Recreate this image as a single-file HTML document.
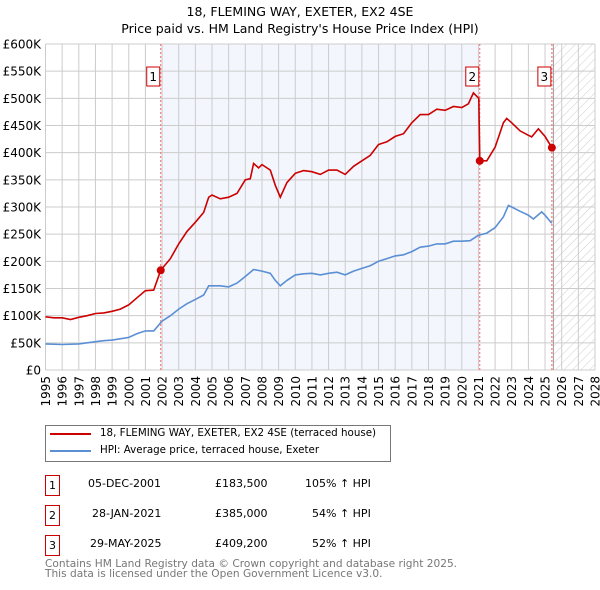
<!DOCTYPE html>
<html><head><meta charset="utf-8"><style>
body{margin:0;background:#fff;font-family:"DejaVu Sans","Liberation Sans",sans-serif;}
#wrap{position:relative;width:600px;height:590px;overflow:hidden}
.t{position:absolute;font-size:11px;color:#000;white-space:nowrap}
.box{position:absolute;border:1px solid #c00;width:13px;height:19px;font-size:11px;text-align:center;line-height:19px}
</style></head><body><div id="wrap">
<svg id="chart" width="600" height="420" style="position:absolute;left:0;top:0" font-family="DejaVu Sans, Liberation Sans, sans-serif">
<defs><pattern id="hatch" width="6" height="6" patternUnits="userSpaceOnUse" patternTransform="rotate(45)"><line x1="0" y1="0" x2="0" y2="6" stroke="#ccc" stroke-width="1"/></pattern></defs>
<text x="300" y="16" text-anchor="middle" font-size="12.5">18, FLEMING WAY, EXETER, EX2 4SE</text>
<text x="300" y="33" text-anchor="middle" font-size="12.5">Price paid vs. HM Land Registry's House Price Index (HPI)</text>
<g id="grid"></g><g id="marks"></g><g id="axes"></g>
</svg>
<div style="position:absolute;left:45px;top:425px;width:344px;height:35px;border:1px solid #777"></div>
<div style="position:absolute;left:50px;top:433px;width:41px;height:2px;background:#c00"></div>
<div class="t" style="left:100px;top:427px;font-size:10.3px">18, FLEMING WAY, EXETER, EX2 4SE (terraced house)</div>
<div style="position:absolute;left:50px;top:450px;width:41px;height:2px;background:#5b8fd4"></div>
<div class="t" style="left:100px;top:444px;font-size:10.3px">HPI: Average price, terraced house, Exeter</div>

<div class="box" style="left:45px;top:475px">1</div>
<div class="t" style="left:88px;top:477px">05-DEC-2001</div>
<div class="t" style="left:215px;top:477px">£183,500</div>
<div class="t" style="left:305px;top:477px">105% ↑ HPI</div>
<div class="box" style="left:45px;top:505px">2</div>
<div class="t" style="left:92px;top:507px">28-JAN-2021</div>
<div class="t" style="left:215px;top:507px">£385,000</div>
<div class="t" style="left:312px;top:507px">54% ↑ HPI</div>
<div class="box" style="left:45px;top:535px">3</div>
<div class="t" style="left:90px;top:537px">29-MAY-2025</div>
<div class="t" style="left:215px;top:537px">£409,200</div>
<div class="t" style="left:312px;top:537px">52% ↑ HPI</div>
<div class="t" style="left:45px;top:559px;color:#777;font-size:10.6px;line-height:10px">Contains HM Land Registry data © Crown copyright and database right 2025.<br>This data is licensed under the Open Government Licence v3.0.</div>
</div>
<script>
const yTicks=[0,50,100,150,200,250,300,350,400,450,500,550,600];
const yTickLabels=["£0","£50K","£100K","£150K","£200K","£250K","£300K","£350K","£400K","£450K","£500K","£550K","£600K"];
const xYears=[1995,1996,1997,1998,1999,2000,2001,2002,2003,2004,2005,2006,2007,2008,2009,2010,2011,2012,2013,2014,2015,2016,2017,2018,2019,2020,2021,2022,2023,2024,2025,2026,2027,2028];
const propT=[1995,1995.5,1996,1996.5,1997,1997.5,1998,1998.5,1999,1999.5,2000,2000.5,2001,2001.5,2001.92,2002.5,2003,2003.5,2004,2004.5,2004.8,2005,2005.5,2006,2006.5,2007,2007.3,2007.5,2007.8,2008,2008.5,2008.8,2009.1,2009.5,2010,2010.5,2011,2011.5,2012,2012.5,2013,2013.5,2014,2014.5,2015,2015.5,2016,2016.5,2017,2017.5,2018,2018.5,2019,2019.5,2020,2020.4,2020.7,2021.02,2021.08,2021.5,2022,2022.5,2022.7,2023,2023.5,2024,2024.2,2024.6,2025,2025.41];
const propV=[98,96,96,93,97,100,104,105,108,112,120,133,146,147,183.5,205,232,255,272,290,318,322,315,318,325,350,352,380,372,378,368,340,318,345,362,367,365,360,368,368,360,375,385,395,415,420,430,435,455,470,470,480,478,485,483,490,510,500,385,385,410,455,463,455,440,432,429,444,430,409.2];
const hpiT=[1995,1996,1997,1997.5,1998,1998.5,1999,2000,2000.5,2001,2001.5,2002,2002.5,2003,2003.5,2004,2004.5,2004.8,2005.5,2006,2006.5,2007,2007.5,2008,2008.5,2008.8,2009.1,2009.5,2010,2010.5,2011,2011.5,2012,2012.5,2013,2013.5,2014,2014.5,2015,2015.5,2016,2016.5,2017,2017.5,2018,2018.5,2019,2019.5,2020,2020.5,2021,2021.5,2022,2022.5,2022.8,2023,2023.5,2024,2024.3,2024.8,2025,2025.4];
const hpiV=[48,47,48,50,52,54,55,60,67,72,72,90,100,112,122,130,138,155,155,153,160,172,185,182,178,165,155,165,175,177,178,175,178,180,175,182,187,192,200,205,210,212,218,226,228,232,232,237,237,238,248,252,262,282,303,300,292,285,278,291,285,270];
const saleT=[2001.92,2021.08,2025.41];
const saleV=[183.5,385,409.2];
const saleLabels=["1","2","3"];
const X0=45.5,X1=595,Y0=370,Y1=44;
const xs=t=>X0+(t-1995)*(X1-X0)/33;
const ys=v=>Y0-v*(Y0-Y1)/600;
const NS="http://www.w3.org/2000/svg";
function mk(parent,tag,attrs){const e=document.createElementNS(NS,tag);for(const k in attrs)e.setAttribute(k,attrs[k]);parent.appendChild(e);return e;}
const grid=document.getElementById('grid'),marks=document.getElementById('marks'),axes=document.getElementById('axes');
let r=mk(grid,'rect',{x:xs(saleT[0]),y:Y1,width:xs(saleT[1])-xs(saleT[0]),height:Y0-Y1,fill:'#f3f6fd'});


const hx=xs(2025.5);
r=mk(grid,'rect',{x:hx,y:Y1,width:X1-hx,height:Y0-Y1,fill:'url(#hatch)'});


yTicks.forEach((v,i)=>{
  const l=mk(grid,'line',{x1:X0,x2:X1,y1:ys(v),y2:ys(v),stroke:'#ccc'});
  
  
  const t=mk(axes,'text',{x:41,y:ys(v)+4.5,'text-anchor':'end','font-size':12});
  t.textContent=yTickLabels[i];
  
  
});
xYears.forEach(yr=>{
  const l=mk(grid,'line',{x1:xs(yr),x2:xs(yr),y1:Y1,y2:Y0,stroke:'#ccc'});
  
  
  const t=mk(axes,'text',{x:0,y:0,'text-anchor':'end','font-size':12,transform:`translate(${xs(yr)+4.5},376) rotate(-90)`});
  t.textContent=yr;
  
  
});
let g=mk(grid,'line',{x1:hx,x2:hx,y1:Y1,y2:Y0,stroke:'#999'});


saleT.forEach((t,i)=>{
  const l=mk(marks,'line',{x1:xs(t),x2:xs(t),y1:Y1,y2:Y0,stroke:'#f66','stroke-dasharray':'2,2'});
  
  
});
function path(T,V,col,name){
  const d=T.map((t,i)=>(i?'L':'M')+xs(t).toFixed(1)+','+ys(V[i]).toFixed(1)).join('');
  const p=mk(marks,'path',{d,fill:'none',stroke:col,'stroke-width':1.6});
  
  
}
path(hpiT,hpiV,'#5b8fd4','hpi-line');
path(propT,propV,'#c00','property-price-line');
saleT.forEach((t,i)=>{
  const c=mk(marks,'circle',{cx:xs(t),cy:ys(saleV[i]),r:4,fill:'#c00'});
  
  
  const bx=xs(t)-14;
  const b=mk(marks,'rect',{x:bx,y:67,width:13,height:19,fill:'#fff',stroke:'#c00'});
  
  
  const tx=mk(marks,'text',{x:bx+6.5,y:81,'text-anchor':'middle','font-size':12});
  tx.textContent=saleLabels[i];
  
  
});
</script></body></html>
